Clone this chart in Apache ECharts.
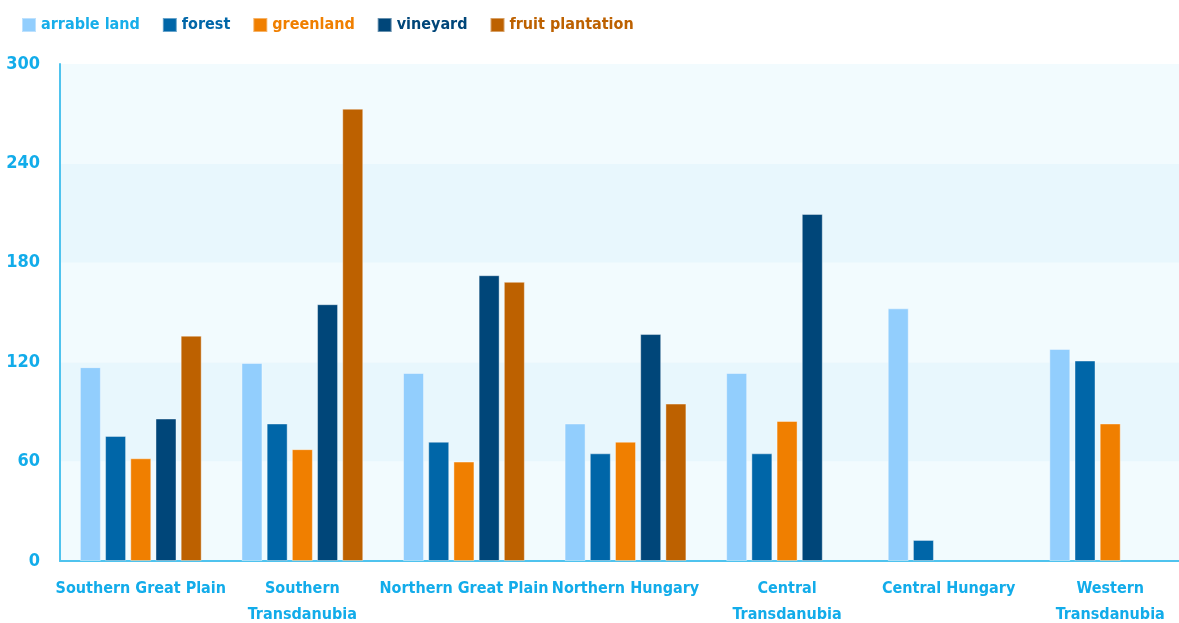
<!DOCTYPE html>
<html>
<head>
<meta charset="utf-8">
<script src="https://cdn.jsdelivr.net/npm/echarts@6/dist/echarts.min.js"></script>
<style>
html, body { margin: 0; padding: 0; background: #ffffff; }
#chart { width: 1179px; height: 623px; }
</style>
</head>
<body>
<div id="chart"></div>
<script>
var regions = ['Southern Great Plain', 'Southern\nTransdanubia', 'Northern Great Plain', 'Northern Hungary',
	'Central\nTransdanubia', 'Central Hungary', 'Western\nTransdanubia'];
var arable = [117, 119.5, 113.5, 83, 113.5, 152.5, 128];
var forest = [75.5, 83, 72, 65, 65, 12.7, 121];
var greenland = [62, 67.5, 60, 72, 84.5, null, 83];
var vineyard = [86, 155, 172.5, 137, 209.5, null, null];
var fruit = [136, 273, 168.5, 95, null, null, null];
var yTicks = [0, 60, 120, 180, 240, 300];

var font = "'DejaVu Sans Condensed', sans-serif";
var cyan = '#12acea';

var names = ['arrable land', 'forest', 'greenland', 'vineyard', 'fruit plantation'];
var colors = ['#92cefd', '#0066a8', '#f07f00', '#004679', '#bd6100'];
var textColors = ['#17aeea', '#0066a8', '#f07f00', '#004679', '#bd6100'];
var values = [arable, forest, greenland, vineyard, fruit];

var series = [];
var legendData = [];
for (i = 0; i < names.length; i++) {
	series.push({
		name: names[i],
		type: 'bar',
		barWidth: 21,
		barGap: '20%',
		data: values[i],
		itemStyle: {color: colors[i], borderColor: 'rgba(255,255,255,0.4)', borderWidth: 1}
	});
	legendData.push({name: names[i], textStyle: {color: textColors[i]}});
}

var myChart = echarts.init(document.getElementById('chart'));
var option = {
	animation: false,
	backgroundColor: '#ffffff',
	color: colors,
	legend: {
		left: 16,
		top: 12,
		itemWidth: 14,
		itemHeight: 14,
		itemGap: 22,
		icon: 'rect',
		data: legendData,
		textStyle: {fontFamily: font, fontWeight: 'bold', fontSize: 16}
	},
	grid: {left: 60, top: 64, bottom: 62, right: -12, outerBoundsMode: 'none', containLabel: false},
	xAxis: {
		type: 'category',
		data: regions,
		axisLine: {lineStyle: {color: '#4fc3ee', width: 2}},
		axisTick: {show: false},
		axisLabel: {
			interval: 0,
			margin: 15,
			color: cyan,
			fontFamily: font,
			fontWeight: 'bold',
			fontSize: 16,
			lineHeight: 26
		}
	},
	yAxis: {
		type: 'value',
		min: yTicks[0],
		max: yTicks[yTicks.length - 1],
		interval: yTicks[1] - yTicks[0],
		axisLine: {show: true, lineStyle: {color: '#4fc3ee', width: 2}},
		axisTick: {show: false},
		splitLine: {show: false},
		splitArea: {show: true, areaStyle: {color: ['#f2fbfe', '#e8f7fd']}},
		axisLabel: {
			margin: 20,
			color: cyan,
			fontFamily: font,
			fontWeight: 'bold',
			fontSize: 18,
			padding: [0, 0, 7, 0]
		}
	},
	series: series
};
myChart.setOption(option);
</script>
</body>
</html>
